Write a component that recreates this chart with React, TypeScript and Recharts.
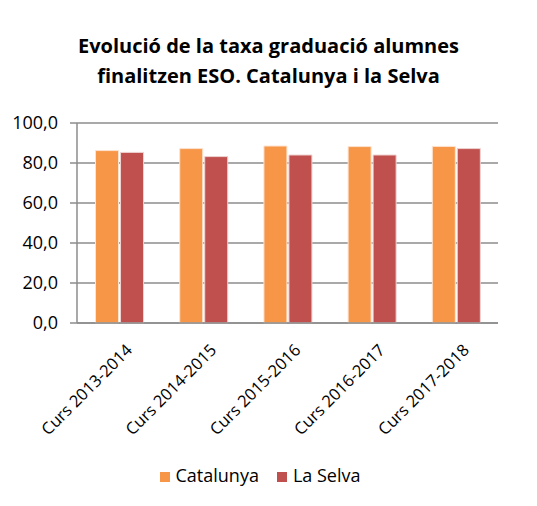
import { Bar, BarChart, CartesianGrid, Legend, XAxis, YAxis } from 'recharts';

const cursos = ['Curs 2013-2014', 'Curs 2014-2015', 'Curs 2015-2016', 'Curs 2016-2017', 'Curs 2017-2018'];
const catalunya = [86.2, 87.2, 88.5, 88.2, 88.3];
const laSelva = [85.3, 83.2, 84.0, 84.0, 87.2];
const yTicks = [0, 20, 40, 60, 80, 100];

const data = cursos.map((curs, i) => ({ curs, catalunya: catalunya[i], laSelva: laSelva[i] }));

const FONT = '"Open Sans", sans-serif';

function CursTick({ x, y, payload }: any) {
  return (
    <text
      x={x + 4}
      y={y + 10}
      transform={`rotate(-45, ${x + 4}, ${y + 10})`}
      textAnchor="end"
      dominantBaseline="hanging"
      fontSize={16.5}
      fontFamily={FONT}
      fill="#000"
    >
      {payload.value}
    </text>
  );
}

export default function App() {
  return (
    <div style={{ position: 'absolute', left: 0, top: 0, width: 537, height: 506, background: '#fff' }}>
      <div
        style={{
          position: 'absolute',
          left: 0,
          top: 31,
          width: 537,
          textAlign: 'center',
          fontFamily: FONT,
          fontWeight: 700,
          fontSize: 20,
          lineHeight: '30px',
          color: '#000',
        }}
      >
        Evolució de la taxa graduació alumnes
        <br />
        finalitzen ESO. Catalunya i la Selva
      </div>
      <BarChart
        width={537}
        height={506}
        data={data}
        margin={{ top: 123, right: 39, left: 0, bottom: 19 }}
        barCategoryGap="22%"
        barGap={2}
      >
        <CartesianGrid vertical={false} stroke="#8c8c8c" strokeWidth={1.5} />
        <YAxis
          width={77}
          domain={[0, 100]}
          ticks={yTicks}
          interval={0}
          tickFormatter={(v: number) => v.toFixed(1).replace('.', ',')}
          tick={{ fontSize: 18, fontFamily: FONT, fill: '#000' }}
          tickSize={7}
          tickMargin={12}
          tickLine={{ stroke: '#8c8c8c', strokeWidth: 1.5 }}
          axisLine={{ stroke: '#8c8c8c', strokeWidth: 1.5 }}
        />
        <XAxis
          dataKey="curs"
          height={140}
          interval={0}
          tick={<CursTick />}
          tickLine={false}
          axisLine={{ stroke: '#8c8c8c', strokeWidth: 1.5 }}
        />
        <Legend
          verticalAlign="bottom"
          height={24}
          iconType="square"
          iconSize={10}
          wrapperStyle={{ fontFamily: FONT, fontSize: 18, color: '#000', left: 20 }}
          formatter={(value: string) => (
            <span style={{ color: '#000', marginLeft: 2, marginRight: 8 }}>{value}</span>
          )}
        />
        <Bar
          dataKey="catalunya"
          name="Catalunya"
          fill="#F79646"
          stroke="#fde3d0"
          strokeWidth={1}
          isAnimationActive={false}
        />
        <Bar
          dataKey="laSelva"
          name="La Selva"
          fill="#C0504D"
          stroke="#eed2d1"
          strokeWidth={1}
          isAnimationActive={false}
        />
      </BarChart>
    </div>
  );
}
